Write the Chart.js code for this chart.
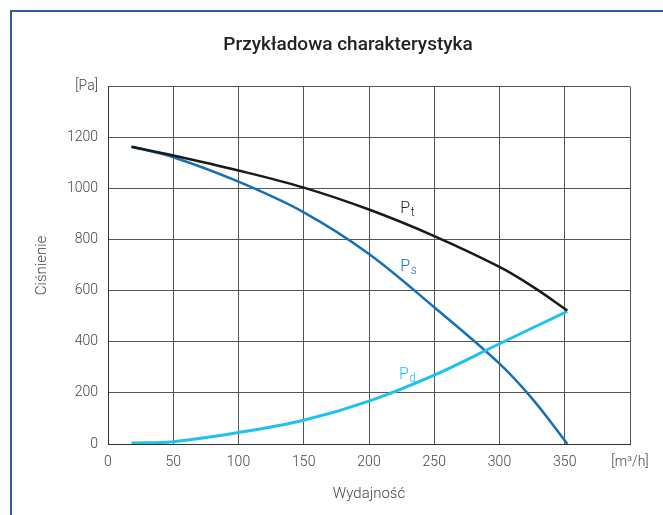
<!DOCTYPE html>
<html>
<head>
<meta charset="utf-8">
<title>Przykładowa charakterystyka</title>
<script src="https://cdn.jsdelivr.net/npm/chart.js@4/dist/chart.umd.min.js"></script>
<style>
    html, body { margin: 0; padding: 0; background: #ffffff; }
    #frame {
        position: absolute;
        left: 10px;
        top: 10px;
        width: 700px;
        height: 600px;
        border-left: 2px solid #2b5f9f;
        border-top: 2px solid #2b5f9f;
    }
    #wrap { position: absolute; left: 0; top: 0; width: 663px; height: 515px; }
</style>
</head>
<body>
<div id="frame"></div>
<div id="wrap"><canvas id="chart-1"></canvas></div>
<script>
// charakterystyka wentylatora

var xTicks = [0, 50, 100, 150, 200, 250, 300, 350, 400];
var yTicks = [0, 200, 400, 600, 800, 1000, 1200, 1400];

// ciśnienie całkowite Pt
var ptX = [18, 50, 100, 150, 200, 250, 300, 326, 352];
var ptY = [1165, 1131, 1072, 1005, 919, 815, 694, 615, 523];

// ciśnienie statyczne Ps
var psX = [18, 50, 100, 150, 200, 250, 300, 326, 352];
var psY = [1165, 1124, 1028, 908, 745, 536, 315, 172, 0];

// ciśnienie dynamiczne Pd
var pdX = [18, 50, 100, 150, 200, 250, 300, 352];
var pdY = [4, 9, 45, 93, 168, 270, 393, 520];

// etykiety krzywych: [litera, indeks dolny, x, y, kolor]
var curveLabels = [
    ['P', 't', 224, 907, '#222222'],
    ['P', 's', 224, 677, '#1b6fb6'],
    ['P', 'd', 223, 255, '#22bff0']
];

var fontName = "Roboto, 'Liberation Sans Narrow', sans-serif";

function toPoints(xs, ys) {
    var pts = [];
    for (var i = 0; i < xs.length; i++) {
        pts.push({ x: xs[i], y: ys[i] });
    }
    return pts;
}

// plugin rysujący opisy Pt / Ps / Pd przy krzywych
var curveLabelPlugin = {
    id: 'curveLabels',
    afterDatasetsDraw: function (chart) {
        var ctx = chart.ctx;
        var xs = chart.scales.x;
        var ys = chart.scales.y;
        ctx.save();
        ctx.textBaseline = 'alphabetic';
        ctx.textAlign = 'left';
        curveLabels.forEach(function (lab) {
            var px = xs.getPixelForValue(lab[2]);
            var py = ys.getPixelForValue(lab[3]);
            ctx.fillStyle = lab[4];
            ctx.font = '300 16px ' + fontName;
            ctx.fillText(lab[0], px, py);
            var w = ctx.measureText(lab[0]).width;
            ctx.font = '300 12px ' + fontName;
            ctx.fillText(lab[1], px + w + 0.5, py + 3);
        });
        ctx.restore();
    }
};

function initializeChart() {
    var ctx = document.getElementById('chart-1').getContext('2d');

    var data = {
        datasets: [{
            label: 'Pt',
            data: toPoints(ptX, ptY),
            borderColor: '#1a1a1a',
            borderWidth: 2.5
        }, {
            label: 'Pd',
            data: toPoints(pdX, pdY),
            borderColor: '#1ec2f0',
            borderWidth: 3
        }, {
            label: 'Ps',
            data: toPoints(psX, psY),
            borderColor: '#1570b8',
            borderWidth: 2.5
        }]
    };

    var options = {
        responsive: false,
        animation: false,
        layout: {
            padding: { left: 33, right: 0, top: 0, bottom: 10 }
        },
        elements: {
            point: { radius: 0 },
            line: { tension: 0.35, fill: false }
        },
        scales: {
            x: {
                type: 'linear',
                min: 0,
                max: 400,
                afterBuildTicks: function (axis) {
                    axis.ticks = xTicks.map(function (v) { return { value: v }; });
                },
                ticks: {
                    color: '#444444',
                    padding: 10,
                    font: { family: fontName, size: 14, weight: '300' },
                    maxRotation: 0,
                    callback: function (value) {
                        return value === 400 ? '[m³/h]' : value;
                    }
                },
                grid: { color: '#555555', lineWidth: 1, drawTicks: false },
                border: { color: '#333333', width: 1 },
                title: {
                    display: true,
                    text: 'Wydajność',
                    color: '#444444',
                    font: { family: fontName, size: 15, weight: '300' },
                    padding: { top: 0, bottom: 2 }
                },
                afterFit: function (axis) {
                    // stały odstęp od prawej krawędzi
                    axis.height = 61;
                    axis.paddingRight = 33;
                }
            },
            y: {
                type: 'linear',
                min: 0,
                max: 1400,
                afterBuildTicks: function (axis) {
                    axis.ticks = yTicks.map(function (v) { return { value: v }; });
                },
                ticks: {
                    color: '#444444',
                    padding: 10,
                    font: { family: fontName, size: 14, weight: '300' },
                    callback: function (value) {
                        return value === 1400 ? '[Pa]' : value;
                    }
                },
                grid: { color: '#555555', lineWidth: 1, drawTicks: false },
                border: { color: '#333333', width: 1 },
                title: {
                    display: true,
                    text: 'Ciśnienie',
                    color: '#444444',
                    font: { family: fontName, size: 15, weight: '300' },
                    padding: { top: 0, bottom: 0 }
                },
                afterFit: function (axis) {
                    axis.width = 75;
                }
            }
        },
        plugins: {
            legend: { display: false },
            tooltip: { enabled: false },
            title: {
                display: true,
                text: 'Przykładowa charakterystyka',
                color: '#222222',
                font: { family: fontName, size: 19, weight: '500' },
                padding: { top: 34, bottom: 30 }
            }
        }
    };

    var canvas = document.getElementById('chart-1');
    canvas.width = 663;
    canvas.height = 515;

    new Chart(ctx, {
        type: 'line',
        data: data,
        options: options,
        plugins: [curveLabelPlugin]
    });
}

initializeChart();
</script>
</body>
</html>
